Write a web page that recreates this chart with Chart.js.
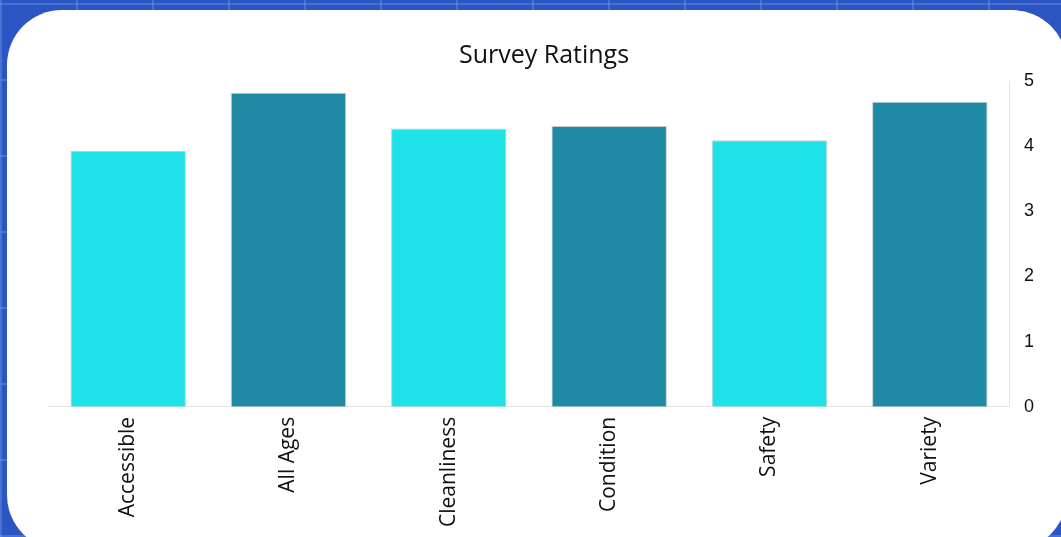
<!DOCTYPE html>
<html>
<head>
<meta charset="utf-8">
<script src="https://cdn.jsdelivr.net/npm/chart.js@4"></script>
<style>
  html, body { margin: 0; padding: 0; }
  body {
    width: 1061px; height: 537px; overflow: hidden; position: relative;
    background-color: #2b55c2;
    background-image:
      repeating-linear-gradient(90deg, rgba(120,170,240,0.35) 0 2px, transparent 2px 76px),
      repeating-linear-gradient(0deg, rgba(120,170,240,0.35) 0 2px, transparent 2px 76px);
  }
  .card {
    position: absolute; left: 7px; top: 10px; width: 1060px; height: 540px;
    background: #fff; border-radius: 55px;
  }
  #wrap { position: absolute; left: 40px; top: 41px; width: 1000px; height: 488px; }
</style>
</head>
<body>
<div class="card"></div>
<div id="wrap"><canvas id="myChart"></canvas></div>
<script>
const categories = ['Accessible', 'All Ages', 'Cleanliness', 'Condition', 'Safety', 'Variety']
const ratings = [3.93, 4.82, 4.27, 4.31, 4.09, 4.68]
const yTicks = [0, 1, 2, 3, 4, 5]

const cyan = '#1fe1e8'
const teal = '#2089a3'

const ctx = document.getElementById('myChart').getContext('2d')
new Chart(ctx, {
  type: 'bar',
  data: {
    labels: categories,
    datasets: [
      {
        label: 'Rating',
        backgroundColor: ratings.map((v, i) => (i % 2 === 0 ? cyan : teal)),
        borderColor: 'rgba(190, 200, 205, 0.9)',
        borderWidth: 1,
        data: ratings,
      },
    ],
  },
  options: {
    responsive: true,
    maintainAspectRatio: false,
    animation: false,
    layout: { padding: { left: 8, right: 0, top: 0, bottom: 0 } },
    plugins: {
      legend: { display: false },
      tooltip: { enabled: false },
      title: {
        display: true,
        text: 'Survey Ratings',
        color: '#111',
        font: { family: 'Open Sans', size: 25, weight: 'normal' },
        padding: { top: 0, bottom: 10 },
      },
    },
    scales: {
      x: {
        grid: { display: false },
        border: { display: true, color: '#e3e3e3' },
        ticks: {
          color: '#111',
          font: { family: 'Open Sans', size: 21 },
          maxRotation: 90,
          minRotation: 90,
          padding: 2,
        },
      },
      y: {
        position: 'right',
        min: 0,
        max: 5,
        afterBuildTicks: (axis) => { axis.ticks = yTicks.map((v) => ({ value: v })) },
        grid: { display: false },
        border: { display: true, color: '#e3e3e3' },
        ticks: {
          color: '#111',
          font: { family: 'Liberation Sans', size: 18 },
          padding: 6,
        },
      },
    },
  },
})
</script>
</body>
</html>
